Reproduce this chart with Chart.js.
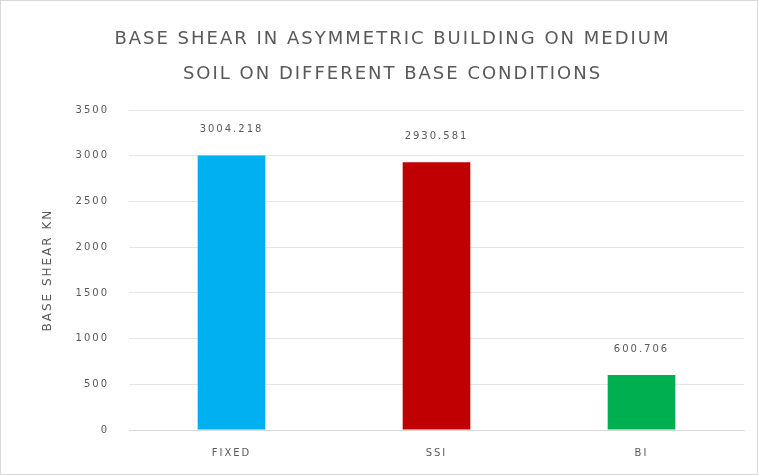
<!DOCTYPE html>
<html>
<head>
<meta charset="utf-8">
<script src="https://cdn.jsdelivr.net/npm/chart.js@4"></script>
<style>
  html, body { margin: 0; padding: 0; background: #fff; }
  #wrap { position: relative; width: 756px; height: 473px; border: 1px solid #d9d9d9; }
</style>
</head>
<body>
<div id="wrap"><canvas id="shearChart"></canvas></div>
<script>
const conditions = ["FIXED", "SSI", "BI"];
const baseShear = [3004.218, 2930.581, 600.706];
const barColors = ["#00B0F0", "#C00000", "#00B050"];
const yTicks = [0, 500, 1000, 1500, 2000, 2500, 3000, 3500];

const FONT = "'DejaVu Sans', sans-serif";
Chart.defaults.font.family = FONT;

// the original text is set wide, so space the letters out a bit
const wideText = {
  id: "wideText",
  beforeUpdate(chart) { chart.ctx.letterSpacing = "2px"; },
  beforeDraw(chart) { chart.ctx.letterSpacing = "2px"; }
};

// values above each bar
const valueLabels = {
  id: "valueLabels",
  afterDatasetsDraw(chart) {
    const ctx = chart.ctx;
    const meta = chart.getDatasetMeta(0);
    ctx.save();
    ctx.font = "10px " + FONT;
    ctx.fillStyle = "#595959";
    ctx.textAlign = "center";
    ctx.textBaseline = "middle";
    meta.data.forEach((bar, i) => {
      ctx.fillText(baseShear[i].toString(), bar.x, bar.y - 26);
    });
    ctx.restore();
  }
};

const ctx = document.querySelector("#shearChart").getContext("2d");
new Chart(ctx, {
  type: "bar",
  data: {
    labels: conditions,
    datasets: [{
      data: baseShear,
      backgroundColor: barColors,
      borderWidth: 0,
      categoryPercentage: 1,
      barPercentage: 0.33
    }]
  },
  options: {
    responsive: true,
    maintainAspectRatio: false,
    animation: false,
    layout: { padding: { left: 40, right: 13, top: 0, bottom: 16 } },
    plugins: {
      legend: { display: false },
      tooltip: { enabled: false },
      title: {
        display: true,
        text: ["BASE SHEAR IN ASYMMETRIC BUILDING ON MEDIUM", "SOIL ON DIFFERENT BASE CONDITIONS"],
        color: "#595959",
        font: { size: 18, weight: "normal", lineHeight: 1.95 },
        padding: { top: 21, bottom: 18 }
      }
    },
    scales: {
      x: {
        grid: { display: false, drawTicks: false },
        border: { color: "#d9d9d9" },
        ticks: { color: "#595959", font: { size: 10 }, padding: 17 },
        afterFit: axis => { axis.height = 28; }
      },
      y: {
        min: 0,
        max: 3500,
        afterBuildTicks: axis => { axis.ticks = yTicks.map(v => ({ value: v })); },
        afterFit: axis => { axis.width = 88; },
        grid: { color: "#e6e6e6", drawTicks: false },
        border: { display: false },
        ticks: { color: "#595959", font: { size: 10 }, padding: 20, callback: v => String(v) },
        title: {
          display: true,
          text: "BASE SHEAR KN",
          color: "#595959",
          font: { size: 12 },
          padding: { top: 0, bottom: 21 }
        }
      }
    }
  },
  plugins: [wideText, valueLabels]
});
</script>
</body>
</html>
